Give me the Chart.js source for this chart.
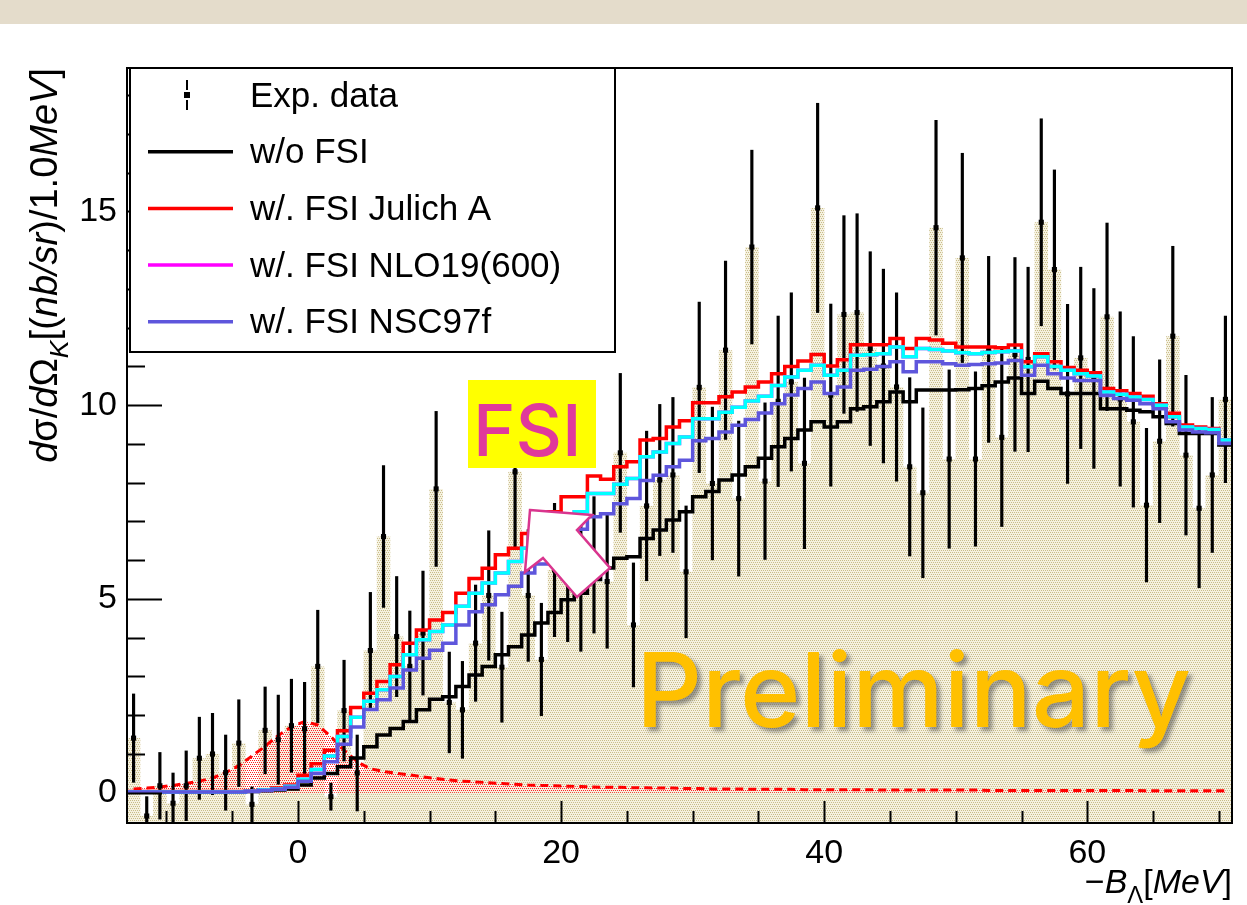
<!DOCTYPE html>
<html lang="en">
<head>
<meta charset="UTF-8">
<title>Lambda binding energy spectrum with FSI</title>
<script src="https://cdn.jsdelivr.net/npm/chart.js"></script>
<style>
    html, body { margin: 0; padding: 0; background: #ffffff; }
    .wrap { position: relative; width: 1247px; height: 905px; }
    .band { position: absolute; left: 0; top: 0; width: 1247px; height: 24px; background: #e4dccb; }
    canvas { position: absolute; left: 0; top: 0; }
</style>
</head>
<body>
<div class="wrap">
    <div class="band"></div>
    <canvas id="chart" width="1247" height="905"></canvas>
</div>
<script>
// bin edges in MeV (1 MeV bins)
const binEdges = [-13,-12,-11,-10,-9,-8,-7,-6,-5,-4,-3,-2,-1,0,1,2,3,4,5,6,7,8,9,10,11,12,13,14,15,16,17,18,19,20,
    21,22,23,24,25,26,27,28,29,30,31,32,33,34,35,36,37,38,39,40,41,42,43,44,45,46,47,48,49,50,51,52,53,54,55,56,57,58,
    59,60,61,62,63,64,65,66,67,68,69,70,71];

// measured cross section and its error per bin
const expValues = [1.41,-0.6,0.18,-0.27,0.18,0.89,1.0,0.52,1.28,-0.3,
    1.61,1.37,1.73,1.65,3.26,-0.1,2.12,0.51,3.67,6.61,
    4.03,3.26,4.12,7.84,2.33,2.14,3.86,5.09,3.24,8.28,
    5.09,3.44,5.75,5.5,5.3,5.88,5.45,8.77,4.33,7.4,
    8.07,8.2,5.7,10.46,7.98,11.42,7.59,14.08,8.04,10.1,
    10.6,8.5,15.09,10.26,12.34,12.39,11.46,11.01,10.47,8.41,
    7.74,14.58,8.61,13.8,8.61,11.44,9.17,11.31,11.18,14.72,
    13.5,10.29,11.22,10.69,12.28,10.16,9.57,7.42,9.07,11.78,
    8.71,7.34,8.2,10.15];
const expErrors = [1.14,0.5,0.86,0.78,0.9,1.06,1.05,0.97,1.12,0.45,
    1.12,1.15,1.2,1.2,1.45,0.35,1.3,0.98,1.5,1.83,
    1.55,1.43,1.6,2.0,1.3,1.25,1.5,1.67,1.42,2.0,
    1.7,1.45,1.72,1.6,1.65,1.76,1.72,2.05,1.6,1.93,
    1.95,2.0,1.7,2.2,1.97,2.3,2.0,2.5,2.02,2.2,
    2.3,2.2,2.7,2.35,2.55,2.55,2.5,2.5,2.43,2.3,
    2.19,2.77,2.3,2.7,2.25,2.4,2.3,2.5,2.38,2.67,
    2.57,2.31,2.34,2.32,2.42,2.25,2.2,1.98,2.1,2.32,
    2.06,2.05,2.0,2.15];

// model histograms
const noFSI = [0.02,0.02,0.02,0.02,0.02,0.02,0.02,0.02,0.02,0.03,
    0.05,0.07,0.1,0.2,0.38,0.5,0.67,0.9,1.19,1.49,
    1.66,1.84,2.14,2.41,2.48,2.74,3.04,3.26,3.56,3.77,
    4.07,4.38,4.65,4.98,5.15,5.5,5.8,6.05,6.09,6.56,
    6.78,7.04,7.25,7.64,7.77,8.07,8.2,8.41,8.63,8.93,
    9.14,9.36,9.57,9.44,9.57,9.91,9.96,10.09,10.34,10.09,
    10.39,10.39,10.39,10.4,10.43,10.5,10.6,10.7,10.3,10.62,
    10.43,10.3,10.3,10.3,9.91,9.91,9.87,9.83,9.7,9.53,
    9.27,9.27,9.27,8.97];
const julichA = [0.03,0.03,0.03,0.03,0.03,0.03,0.03,0.03,0.03,0.05,
    0.08,0.12,0.2,0.45,0.75,1.1,1.6,2.2,2.57,2.87,
    3.3,3.86,4.2,4.46,4.65,5.15,5.53,5.79,6.14,6.31,
    6.69,6.95,7.25,7.64,7.64,8.17,8.09,8.41,8.54,9.1,
    9.14,9.44,9.6,10.06,10.06,10.22,10.34,10.47,10.6,10.81,
    11.0,11.14,11.31,11.01,11.17,11.56,11.56,11.56,11.72,11.46,
    11.72,11.68,11.6,11.5,11.5,11.5,11.48,11.55,11.12,11.33,
    11.12,10.97,10.9,10.84,10.43,10.37,10.3,10.23,10.04,9.79,
    9.49,9.44,9.4,9.1];
const nlo19 = [0.02,0.02,0.02,0.02,0.02,0.02,0.02,0.02,0.02,0.04,
    0.07,0.1,0.17,0.35,0.6,0.95,1.45,1.95,2.36,2.66,
    3.0,3.56,3.95,4.16,4.33,4.81,5.15,5.41,5.67,5.97,
    6.31,6.6,6.85,7.05,7.25,7.72,7.72,7.96,8.11,8.67,
    8.79,9.01,9.18,9.65,9.65,9.82,9.95,10.11,10.23,10.51,
    10.73,10.9,11.03,10.77,10.9,11.29,11.3,11.33,11.5,11.25,
    11.46,11.44,11.4,11.35,11.33,11.36,11.38,11.4,10.99,11.25,
    11.0,10.9,10.81,10.75,10.34,10.28,10.21,10.15,10.0,9.7,
    9.44,9.4,9.37,9.1];
const nsc97f = [0.02,0.02,0.02,0.02,0.02,0.02,0.02,0.02,0.02,0.03,
    0.06,0.09,0.14,0.3,0.5,0.8,1.25,1.7,2.15,2.4,
    2.7,3.17,3.47,3.68,3.86,4.33,4.67,4.85,5.11,5.33,
    5.67,5.9,6.2,6.5,6.8,7.12,7.2,7.46,7.59,8.06,
    8.19,8.41,8.58,9.08,9.14,9.31,9.48,9.63,9.8,10.04,
    10.26,10.43,10.6,10.3,10.47,10.9,10.93,11.0,11.12,10.86,
    11.12,11.12,11.07,11.03,11.05,11.07,11.09,11.15,10.77,11.03,
    10.81,10.7,10.64,10.64,10.25,10.17,10.13,10.04,9.91,9.57,
    9.36,9.31,9.29,9.01];
// bound-state peak (red dashed, shaded)
const lambdaPeak = [0.1,0.12,0.15,0.19,0.24,0.3,0.38,0.52,0.7,0.95,
    1.2,1.48,1.7,1.84,1.75,1.45,1.1,0.8,0.62,0.55,
    0.5,0.46,0.41,0.37,0.33,0.3,0.28,0.26,0.24,0.22,
    0.2,0.19,0.18,0.17,0.16,0.15,0.14,0.14,0.13,0.13,
    0.12,0.12,0.11,0.11,0.1,0.1,0.1,0.09,0.09,0.09,
    0.09,0.08,0.08,0.08,0.08,0.08,0.08,0.07,0.07,0.07,
    0.07,0.07,0.07,0.07,0.07,0.06,0.06,0.06,0.06,0.06,
    0.06,0.06,0.06,0.06,0.06,0.06,0.06,0.05,0.05,0.05,
    0.05,0.05,0.05,0.05];

const xTickLabels = [0, 20, 40, 60];
const yTickLabels = [0, 5, 10, 15];

const X_MIN = -13, X_MAX = 71, Y_MIN = -0.78, Y_MAX = 18.7;
const FONT = "'Liberation Sans', Arial, Helvetica, sans-serif";

const binCenters = expValues.map((v, i) => (binEdges[i] + binEdges[i + 1]) / 2);
const histPoints = vals => binEdges.map((x, k) => ({ x: x, y: vals[Math.min(k, vals.length - 1)] }));

// ROOT-like dotted fill patterns
const patCtx = document.createElement('canvas').getContext('2d');
function dotPattern(bg, dot, size, dots) {
    const c = document.createElement('canvas');
    c.width = size; c.height = size;
    const g = c.getContext('2d');
    if (bg) { g.fillStyle = bg; g.fillRect(0, 0, size, size); }
    g.fillStyle = dot;
    dots.forEach(d => g.fillRect(d[0], d[1], 1, 1));
    return patCtx.createPattern(c, 'repeat');
}
const beigeFill = dotPattern('#f5f1e0', '#c8bc88', 4, [[0, 0], [2, 0], [1, 2], [3, 2]]);
const redFill = dotPattern(null, '#ff2020', 4, [[0, 0], [2, 0], [1, 2], [3, 2]]);

function histLine(label, vals, color, order, legendRank) {
    return {
        type: 'line', label: label, data: histPoints(vals),
        borderColor: color, borderWidth: 3.5, stepped: true,
        pointRadius: 0, fill: false, order: order, legendRank: legendRank,
        borderJoinStyle: 'miter', borderCapStyle: 'butt'
    };
}

// text with italic / subscript pieces
function drawRich(ctx, parts, x, y, size) {
    let cx = x;
    parts.forEach(p => {
        const s = p.sub ? size * 0.7 : size;
        ctx.font = (p.it ? 'italic ' : '') + s + 'px ' + FONT;
        ctx.fillText(p.t, cx, y + (p.sub ? size * 0.28 : 0));
        cx += ctx.measureText(p.t).width;
    });
    return cx - x;
}
function richWidth(ctx, parts, size) {
    let w = 0;
    parts.forEach(p => {
        const s = p.sub ? size * 0.7 : size;
        ctx.font = (p.it ? 'italic ' : '') + s + 'px ' + FONT;
        w += ctx.measureText(p.t).width;
    });
    return w;
}

const yTitle = [{t: 'd', it: 1}, {t: 'σ'}, {t: '/'}, {t: 'd', it: 1}, {t: 'Ω'}, {t: 'K', it: 1, sub: 1},
    {t: '[('}, {t: 'nb/sr', it: 1}, {t: ')/1.0'}, {t: 'MeV', it: 1}, {t: ']'}];
const xTitle = [{t: '−'}, {t: 'B', it: 1}, {t: 'Λ', sub: 1}, {t: '['}, {t: 'MeV', it: 1}, {t: ']'}];

const rootStyle = {
    id: 'rootStyle',
    afterDatasetsDraw(chart) {
        const { ctx, chartArea: a, scales: { x, y } } = chart;
        ctx.save();
        ctx.strokeStyle = '#000';
        ctx.lineWidth = 2;
        // inward ticks on bottom axis
        for (let v = -10; v <= 70; v += 5) {
            const px = Math.round(x.getPixelForValue(v)) + 0.5;
            const len = xTickLabels.includes(v) ? 22 : 12;
            ctx.beginPath(); ctx.moveTo(px, a.bottom); ctx.lineTo(px, a.bottom - len); ctx.stroke();
        }
        // inward ticks on left axis
        for (let v = 0; v <= 18; v += 1) {
            const py = Math.round(y.getPixelForValue(v)) + 0.5;
            const len = yTickLabels.includes(v) ? 35 : 18;
            ctx.beginPath(); ctx.moveTo(a.left, py); ctx.lineTo(a.left + len, py); ctx.stroke();
        }
        ctx.strokeRect(a.left, a.top, a.right - a.left, a.bottom - a.top);

        // axis titles
        ctx.fillStyle = '#000';
        ctx.textBaseline = 'alphabetic';
        const ySize = 38;
        const yw = richWidth(ctx, yTitle, ySize);
        ctx.save();
        ctx.translate(57, a.top + yw);
        ctx.rotate(-Math.PI / 2);
        drawRich(ctx, yTitle, 0, 0, ySize);
        ctx.restore();
        const xSize = 34;
        const xw = richWidth(ctx, xTitle, xSize);
        drawRich(ctx, xTitle, a.right - xw, 893, xSize);

        // legend box
        const lx = 130, ly = a.top, lw = 485, lh = 284;
        ctx.fillStyle = '#fff';
        ctx.fillRect(lx, ly, lw, lh);
        ctx.strokeRect(lx, ly, lw, lh);
        ctx.font = '35px ' + FONT;
        ctx.textBaseline = 'middle';
        let rowY = 95;
        ctx.fillStyle = '#000';
        ctx.fillRect(186, 80, 2, 10); ctx.fillRect(186, 100, 2, 10);
        ctx.fillRect(184, 92, 6, 6);
        ctx.fillText('Exp. data', 250, rowY + 2);
        chart.data.datasets.filter(d => d.legendRank)
            .sort((p, q) => p.legendRank - q.legendRank)
            .forEach(d => {
                rowY += 56.7;
                ctx.strokeStyle = d.borderColor;
                ctx.lineWidth = 3.5;
                ctx.beginPath(); ctx.moveTo(148, rowY); ctx.lineTo(233, rowY); ctx.stroke();
                ctx.fillStyle = '#000';
                ctx.fillText(d.label, 250, rowY + 2);
            });

        // slide annotations
        ctx.fillStyle = '#ffff00';
        ctx.fillRect(468, 380, 128, 88);
        ctx.fillStyle = '#e0399b';
        ctx.font = '500 72px Inter, "Noto Sans", sans-serif';
        ctx.textBaseline = 'alphabetic';
        ctx.fillText('FSI', 473, 456);

        ctx.beginPath();
        ctx.moveTo(530, 510); ctx.lineTo(592, 515); ctx.lineTo(577, 530); ctx.lineTo(610, 568);
        ctx.lineTo(577, 597); ctx.lineTo(543, 558); ctx.lineTo(525, 572); ctx.closePath();
        ctx.fillStyle = '#fff'; ctx.fill();
        ctx.strokeStyle = '#d9358e'; ctx.lineWidth = 2.5; ctx.lineJoin = 'miter'; ctx.stroke();

        ctx.save();
        ctx.shadowColor = 'rgba(70,70,70,0.55)';
        ctx.shadowOffsetX = 4; ctx.shadowOffsetY = 4; ctx.shadowBlur = 4;
        ctx.fillStyle = '#ffc000';
        ctx.font = '500 103px Inter, "Noto Sans", sans-serif';
        ctx.fillText('Preliminary', 636, 727);
        ctx.restore();
        ctx.restore();
    }
};

new Chart(document.getElementById('chart'), {
    data: {
        datasets: [
            histLine('w/. FSI NSC97f', nsc97f, '#5e56dc', 1, 4),
            histLine('NLO19 overlay', nlo19, '#00ffff', 2, 0),
            histLine('w/. FSI NLO19(600)', nlo19, '#ff00ff', 3, 3),
            histLine('w/. FSI Julich A', julichA, '#ff0000', 4, 2),
            histLine('w/o FSI', noFSI, '#000000', 5, 1),
            {
                type: 'scatter', label: 'Exp. data markers',
                data: binCenters.map((c, i) => ({ x: c, y: expValues[i] })),
                pointStyle: 'rect', pointRadius: 3.6, pointBackgroundColor: '#000',
                pointBorderWidth: 0, order: 6
            },
            {
                type: 'bar', label: 'Exp. data errors',
                data: binCenters.map((c, i) => ({ x: c, y: [expValues[i] - expErrors[i], expValues[i] + expErrors[i]] })),
                backgroundColor: '#000', borderWidth: 0, barThickness: 2.5, grouped: false, order: 7
            },
            {
                type: 'line', label: 'Lambda peak',
                data: binCenters.map((c, i) => ({ x: c, y: lambdaPeak[i] })),
                borderColor: '#ff0000', borderWidth: 3, borderDash: [8, 5],
                backgroundColor: redFill, fill: 'origin', pointRadius: 0, order: 8
            },
            {
                type: 'bar', label: 'Exp. data fill',
                data: binCenters.map((c, i) => ({ x: c, y: [Y_MIN, expValues[i]] })),
                backgroundColor: beigeFill, borderWidth: 0,
                barPercentage: 1.03, categoryPercentage: 1, grouped: false, order: 9
            }
        ]
    },
    options: {
        responsive: false,
        animation: false,
        devicePixelRatio: 1,
        layout: { padding: { left: 0, top: 68, right: 15, bottom: 0 } },
        plugins: { legend: { display: false }, tooltip: { enabled: false } },
        scales: {
            x: {
                type: 'linear', min: X_MIN, max: X_MAX, offset: false,
                grid: { display: false, drawTicks: false, offset: false }, border: { display: false },
                afterBuildTicks: s => { s.ticks = xTickLabels.map(v => ({ value: v })); },
                afterFit: s => { s.height = 82; },
                ticks: { color: '#000', font: { family: FONT, size: 34 }, padding: 10, maxRotation: 0 }
            },
            y: {
                type: 'linear', min: Y_MIN, max: Y_MAX,
                grid: { display: false, drawTicks: false }, border: { display: false },
                afterBuildTicks: s => { s.ticks = yTickLabels.map(v => ({ value: v })); },
                afterFit: s => { s.width = 127; },
                ticks: { color: '#000', font: { family: FONT, size: 34 }, padding: 10 }
            }
        }
    },
    plugins: [rootStyle]
});
</script>
</body>
</html>
